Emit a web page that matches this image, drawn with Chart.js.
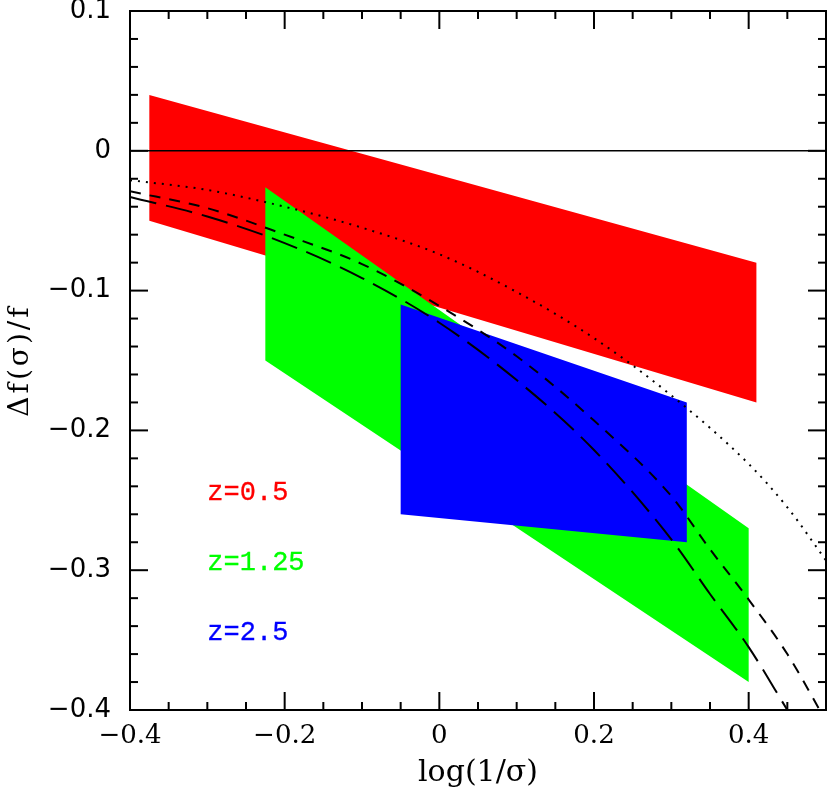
<!DOCTYPE html>
<html><head><meta charset="utf-8">
<script src="https://cdn.jsdelivr.net/npm/chart.js@4/dist/chart.umd.min.js"></script>
<style>html,body{margin:0;padding:0;background:#fff;}canvas{display:block;}</style>
</head><body>
<canvas id="c" width="830" height="791"></canvas>
<script>
// ---- data ----
const redBandX   = [-0.375, 0.41, 0.41, -0.375];
const redBandY   = [0.04, -0.08, -0.18, -0.05];
const greenBandX = [-0.225, 0.40, 0.40, -0.225];
const greenBandY = [-0.026, -0.27, -0.38, -0.15];
const blueBandX  = [-0.05, 0.32, 0.32, -0.05];
const blueBandY  = [-0.11, -0.18, -0.28, -0.26];

const dottedX = [-0.4, -0.3, -0.2, -0.1, 0, 0.1, 0.2, 0.3, 0.4, 0.45, 0.5];
const dottedY = [-0.021, -0.028, -0.040, -0.055, -0.074, -0.101, -0.134, -0.175, -0.224, -0.255, -0.293];
const shortDashX = [-0.4, -0.3, -0.2, -0.1, 0, 0.1, 0.2, 0.3, 0.35, 0.4, 0.45, 0.5];
const shortDashY = [-0.029, -0.041, -0.060, -0.081, -0.111, -0.147, -0.193, -0.247, -0.285, -0.321, -0.360, -0.408];
const longDashX = [-0.4, -0.3, -0.2, -0.1, 0, 0.1, 0.2, 0.3, 0.35, 0.4, 0.45, 0.5];
const longDashY = [-0.033, -0.047, -0.066, -0.091, -0.123, -0.164, -0.214, -0.278, -0.317, -0.355, -0.400, -0.445];
const zeroLineX = [-0.4, 0.5];
const zeroLineY = [0, 0];

const bandLabels = ['z=0.5', 'z=1.25', 'z=2.5'];
const bandColors = ['#ff0000', '#00ff00', '#0000ff'];
const xAxisTitle = 'log(1/σ)';
const yAxisTitle = 'Δf(σ)/f';
const xRange = [-0.4, 0.5];
const yRange = [-0.4, 0.1];
const xTickStep = 0.2, yTickStep = 0.1;
const xMinorStep = 0.05, yMinorStep = 0.02;

// ---- helpers ----
const pts = (xs, ys) => xs.map((x, i) => ({x: x, y: ys[i]}));
const closed = (xs, ys) => { const p = pts(xs, ys); p.push({...p[0]}); return p; };
const fmt = v => Math.abs(v) < 1e-9 ? '0' : v.toFixed(1).replace('-', '\u2212');

const polygon = (xs, ys, color, order) => ({
  data: closed(xs, ys), showLine: true, fill: 'shape', tension: 0,
  backgroundColor: color, borderColor: 'rgba(0,0,0,0)', borderWidth: 0,
  pointRadius: 0, order: order
});
const curve = (xs, ys, dash, order, width) => ({
  data: pts(xs, ys), showLine: true, fill: false, cubicInterpolationMode: 'monotone',
  borderColor: '#000', borderWidth: width, borderDash: dash, borderCapStyle: 'butt',
  pointRadius: 0, order: order
});

const decorPlugin = {
  id: 'decor',
  afterDatasetsDraw(chart) {
    const {ctx, chartArea: a, scales: {x, y}} = chart;
    ctx.save();
    ctx.strokeStyle = '#000';
    ctx.lineWidth = 2;
    ctx.lineCap = 'butt';
    ctx.strokeRect(a.left, a.top, a.right - a.left, a.bottom - a.top);
    const seg = (x1, y1, x2, y2) => { ctx.beginPath(); ctx.moveTo(x1, y1); ctx.lineTo(x2, y2); ctx.stroke(); };
    const nY = Math.round((yRange[1] - yRange[0]) / yMinorStep);
    for (let k = 0; k <= nY; k++) {
      const v = yRange[0] + k * yMinorStep;
      const p = y.getPixelForValue(v);
      const L = (k % 5 === 0) ? 18 : 8;
      seg(a.left, p, a.left + L, p);
      seg(a.right, p, a.right - L, p);
    }
    const nX = Math.round((xRange[1] - xRange[0]) / xMinorStep);
    for (let k = 0; k <= nX; k++) {
      const v = xRange[0] + k * xMinorStep;
      const p = x.getPixelForValue(v);
      const L = (k % 4 === 0) ? 18 : 8;
      seg(p, a.bottom, p, a.bottom - L);
      seg(p, a.top, p, a.top + L);
    }
    // band labels
    ctx.font = '27px "Liberation Mono"';
    ctx.textAlign = 'left';
    ctx.textBaseline = 'alphabetic';
    const labelYs = [-0.25, -0.30, -0.35];
    bandLabels.forEach((t, i) => {
      ctx.fillStyle = bandColors[i];
      ctx.strokeStyle = bandColors[i];
      ctx.lineWidth = 0.3;
      const px = x.getPixelForValue(-0.3), py = y.getPixelForValue(labelYs[i]);
      ctx.fillText(t, px, py);
      ctx.strokeText(t, px, py);
    });
    // axis titles
    ctx.fillStyle = '#000';
    ctx.font = '30px "DejaVu Serif"';
    ctx.textAlign = 'center';
    ctx.letterSpacing = '0px';
    ctx.fillText(xAxisTitle, (a.left + a.right) / 2, 781);
    ctx.save();
    ctx.translate(28, (a.top + a.bottom) / 2);
    ctx.rotate(-Math.PI / 2);
    ctx.font = '28px "DejaVu Serif"';
    ctx.letterSpacing = '3px';
    ctx.fillText(yAxisTitle, 0, 0);
    ctx.restore();
    ctx.restore();
  }
};

new Chart(document.getElementById('c'), {
  type: 'scatter',
  data: {
    datasets: [
      curve(dottedX, dottedY, [2, 6], 0, 2),
      curve(shortDashX, shortDashY, [11, 9], 0, 2),
      curve(longDashX, longDashY, [27, 10], 0, 2),
      {data: pts(zeroLineX, zeroLineY), showLine: true, fill: false, borderColor: '#000', borderWidth: 1.5, pointRadius: 0, order: 1},
      polygon(blueBandX, blueBandY, '#0000ff', 2),
      polygon(greenBandX, greenBandY, '#00ff00', 3),
      polygon(redBandX, redBandY, '#ff0000', 4)
    ]
  },
  options: {
    responsive: false,
    devicePixelRatio: 1,
    animation: false,
    layout: {padding: {left: 0, top: 11, right: 4, bottom: 0}},
    plugins: {legend: {display: false}, tooltip: {enabled: false}},
    scales: {
      x: {
        type: 'linear', position: 'bottom', min: xRange[0], max: xRange[1],
        grid: {display: false, drawTicks: false}, border: {display: false},
        ticks: {stepSize: xTickStep, includeBounds: false, autoSkip: false, maxRotation: 0,
          padding: 11, color: '#000', font: {family: 'DejaVu Serif', size: 26},
          callback: v => fmt(v)},
        afterFit(s) { s.height = 81; s.paddingLeft = 0; s.paddingRight = 0; }
      },
      y: {
        type: 'linear', position: 'left', min: yRange[0], max: yRange[1],
        grid: {display: false, drawTicks: false}, border: {display: false},
        ticks: {stepSize: yTickStep, autoSkip: false, padding: 19, color: '#000',
          font: {family: 'DejaVu Sans', size: 26}, callback: v => fmt(v)},
        afterFit(s) { s.width = 130; s.paddingTop = 0; s.paddingBottom = 0; }
      }
    }
  },
  plugins: [decorPlugin]
});
</script>
</body></html>
